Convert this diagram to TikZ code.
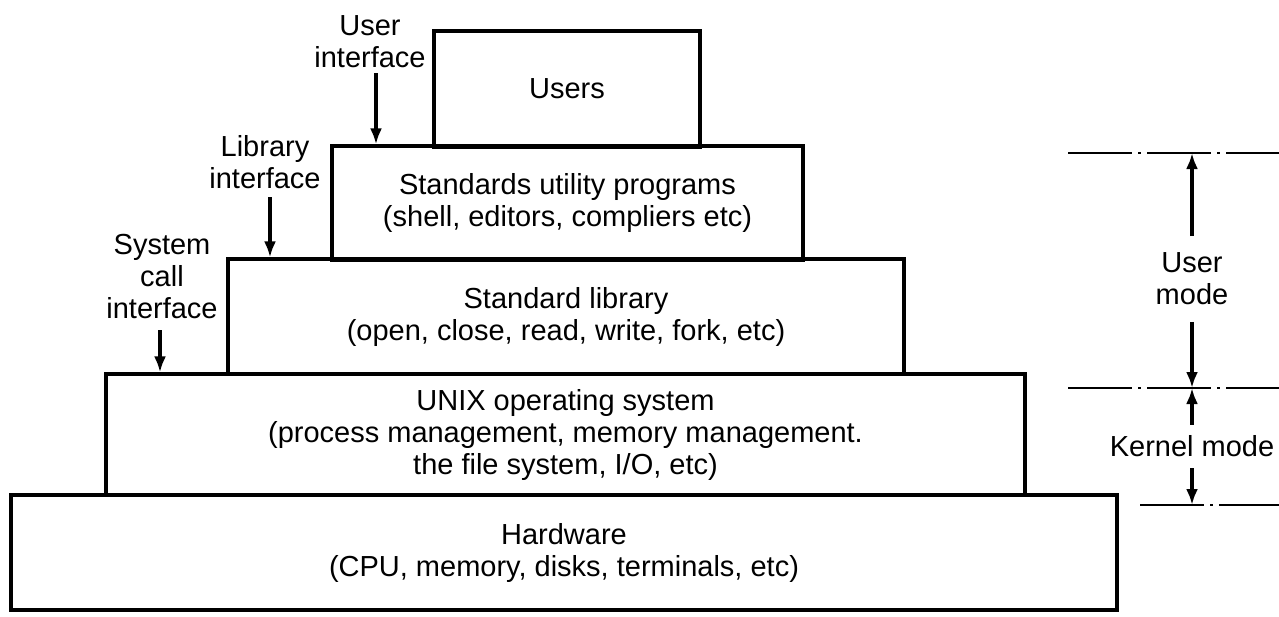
\documentclass[tikz,border=0pt]{standalone}
\usepackage{fontspec}
\setmainfont{Liberation Sans}
\usetikzlibrary{arrows.meta}
\begin{document}
\begin{tikzpicture}[x=0.5pt,y=-0.5pt,
  every node/.style={font=\fontsize{14.5pt}{16pt}\selectfont, align=center},
  layer/.style={draw, line width=1.6pt, inner sep=0pt},
  lbl/.style={inner sep=0pt},
  arr/.style={line width=1.7pt, -{Latex[length=8pt,width=6pt]}},
  modeline/.style={line width=0.9pt, dash pattern=on 32pt off 3pt on 1.5pt off 3pt}]
\useasboundingbox (0,0) rectangle (1279,616);
% layers
\node[layer, minimum width=553pt, minimum height=57.5pt] (hw) at (564,552.5)
  {Hardware\\(CPU, memory, disks, terminals, etc)};
\node[layer, minimum width=459.5pt, minimum height=60.5pt] (unix) at (565.5,434.5)
  {UNIX operating system\\(process management, memory management.\\the file system, I/O, etc)};
\node[layer, minimum width=338pt, minimum height=57.5pt] (lib) at (566,316.5)
  {\raisebox{-3pt}{Standard library}\\[0pt]\raisebox{-3pt}{(open, close, read, write, fork, etc)}};
\node[layer, minimum width=235.5pt, minimum height=57pt] (util) at (567.5,203)
  {Standards utility programs\\(shell, editors, compliers etc)};
\node[layer, minimum width=133pt, minimum height=58pt] (users) at (567,89) {Users};
% interface labels
\node[lbl, minimum height=31pt] (uilab) at (370,42) {User\\interface};
\node[lbl, minimum height=35pt] (liblab) at (265,162) {Library\\interface};
\node[lbl, minimum height=53pt] (syslab) at (162,277) {System\\call\\interface};
\draw[arr] ([xshift=3pt]uilab.south) -- ([xshift=3pt]uilab.south |- util.north);
\draw[arr] ([xshift=2.5pt]liblab.south) -- ([xshift=2.5pt]liblab.south |- lib.north);
\draw[arr] ([xshift=-1pt]syslab.south) -- ([xshift=-1pt]syslab.south |- unix.north);
% mode boundaries
\coordinate (tL) at (1068,153); \coordinate (tR) at (1279,153);
\coordinate (mL) at (1068,388); \coordinate (mR) at (1279,388);
\coordinate (bL) at (1140,505); \coordinate (bR) at (1279,505);
\draw[modeline] (tL) -- (tR);
\draw[modeline] (mL) -- (mR);
\draw[modeline] (bL) -- (bR);
\node[lbl, minimum height=42.5pt] (umode) at (1192,279) {User\\mode};
\node[lbl, minimum height=21.5pt] (kmode) at (1192,446.5) {Kernel mode};
\draw[arr] (umode.north) -- (umode.north |- tL);
\draw[arr] (umode.south) -- (umode.south |- mL);
\draw[arr] (kmode.north) -- (kmode.north |- mL);
\draw[arr] (kmode.south) -- (kmode.south |- bL);
\end{tikzpicture}
\end{document}
